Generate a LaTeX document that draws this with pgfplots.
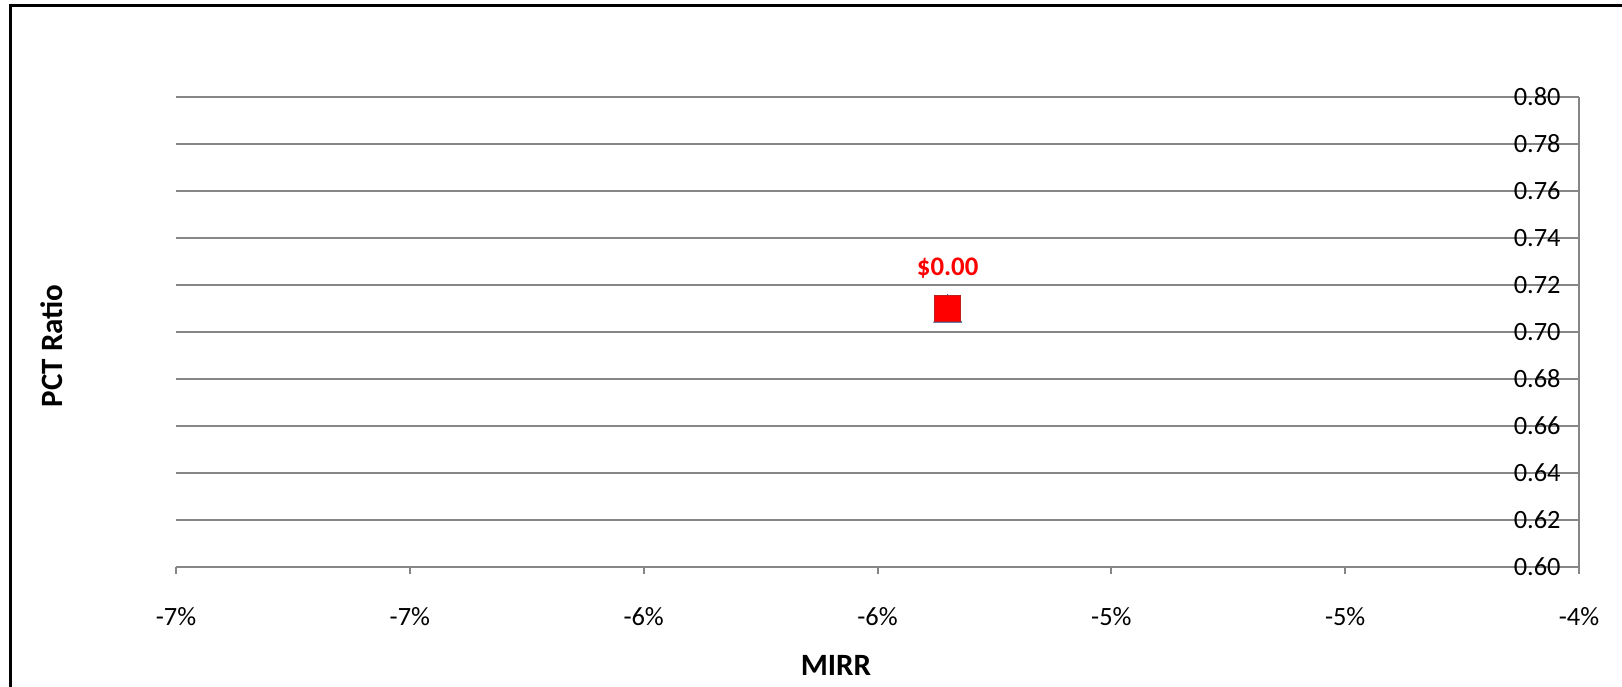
\documentclass[border=0pt]{standalone}
\usepackage{fontspec}
\setmainfont{Carlito}
\usepackage{pgfplots}
\pgfplotsset{compat=1.18}
\definecolor{gridgray}{RGB}{134,134,134}
\definecolor{mkborder}{RGB}{190,30,30}
\definecolor{triblue}{RGB}{68,114,196}
\begin{document}
\begin{tikzpicture}
\useasboundingbox (0,0) rectangle (811pt,343pt);
\draw[line width=1.5pt, black] (5pt,-10pt) -- (5pt,340pt) -- (830pt,340pt);
\begin{axis}[
  at={(88pt,59.5pt)}, anchor=south west,
  width=701.5pt, height=235pt, scale only axis,
  xmin=-0.07, xmax=-0.04, ymin=0.6, ymax=0.8,
  axis x line=bottom, axis y line=right,
  axis line style={gridgray, line width=1pt, -},
  scaled x ticks=false, scaled y ticks=false,
  xtick={-0.07,-0.065,-0.06,-0.055,-0.05,-0.045,-0.04},
  xticklabels={-7\%,-7\%,-6\%,-6\%,-5\%,-5\%,-4\%},
  ytick={0.6,0.62,0.64,0.66,0.68,0.7,0.72,0.74,0.76,0.78,0.8},
  /pgf/number format/fixed, /pgf/number format/fixed zerofill, /pgf/number format/precision=2,
  /pgf/number format/assume math mode=true,
  ymajorgrids, grid style={gridgray, line width=1pt},
  tick align=outside, major tick length=3.5pt,
  xtick style={gridgray, line width=1pt},
  ytick style={draw=none},
  tick label style={font=\fontsize{13.2}{15}\selectfont, text=black},
  xticklabel style={anchor=center, yshift=-21.5pt},
  yticklabel style={anchor=east, inner xsep=0pt, xshift=-12.5pt},
  clip=false,
]
\addplot[only marks, mark=triangle*, mark size=8pt,
  mark options={fill=triblue, draw=triblue!70!black, yscale=1.15, yshift=-2pt}]
  coordinates {(-0.0535,0.71)};
\addplot[only marks, mark=square*, mark size=6.5pt,
  mark options={fill=red, draw=mkborder, line width=0.6pt},
  nodes near coords={\$0.00},
  nodes near coords style={anchor=center, yshift=20pt, text=red, font=\bfseries\fontsize{13.4}{15}\selectfont}]
  coordinates {(-0.0535,0.71)};
\end{axis}
\node[font=\bfseries\fontsize{15.5}{18}\selectfont] at (418pt,10.5pt) {MIRR};
\node[font=\bfseries\fontsize{15.5}{18}\selectfont, rotate=90] at (26pt,170pt) {PCT Ratio};
\end{tikzpicture}
\end{document}
